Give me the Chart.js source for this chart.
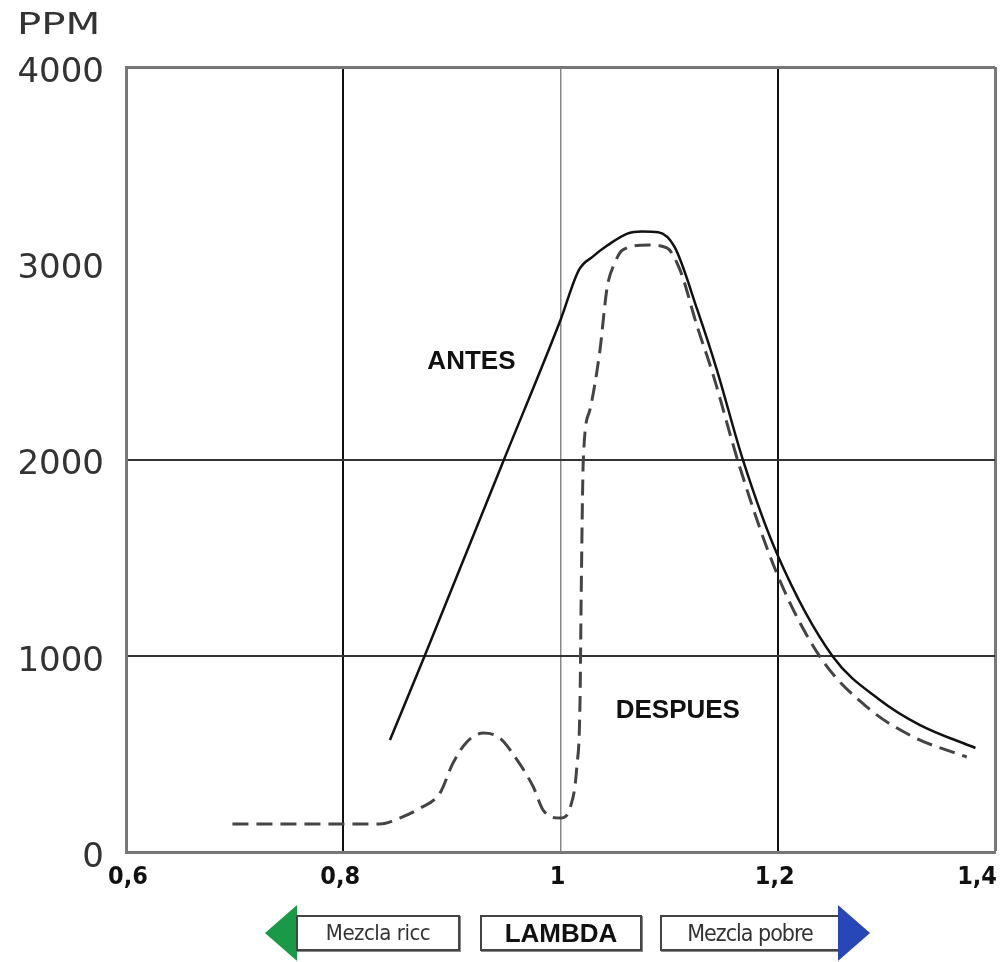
<!DOCTYPE html>
<html>
<head>
<meta charset="utf-8">
<script src="https://cdn.jsdelivr.net/npm/chart.js@4"></script>
<style>
  body { margin: 0; background: #fff; }
  #wrap { position: relative; width: 1000px; height: 962px; }
  .box {
    position: absolute; top: 915px; height: 32px; background: #fff;
    border: 2px solid #444; box-shadow: 1px 1px 0 #888;
    font-family: "DejaVu Sans Condensed", "DejaVu Sans", sans-serif;
    font-size: 22px; color: #333; line-height: 32px; text-align: center;
    letter-spacing: -0.5px; white-space: nowrap; overflow: hidden;
  }
  .arrow { position: absolute; width: 0; height: 0; }
</style>
</head>
<body>
<div id="wrap">
  <canvas id="chartNox" width="1000" height="962"></canvas>
  <div class="arrow" style="left:265px;top:905px;border-top:28px solid transparent;border-bottom:28px solid transparent;border-right:32px solid #1a9a46;"></div>
  <div class="box" style="left:296px;width:160px;">Mezcla ricc</div>
  <div class="box" style="left:480px;width:158px;font-family:'Liberation Sans',sans-serif;font-weight:bold;font-size:26px;color:#111;letter-spacing:0;">LAMBDA</div>
  <div class="box" style="left:660px;width:176px;font-size:23px;letter-spacing:-1px;">Mezcla pobre</div>
  <div class="arrow" style="left:838px;top:905px;border-top:28px solid transparent;border-bottom:28px solid transparent;border-left:32px solid #2747b8;"></div>
</div>
<script>
// eje x: lambda, eje y: PPM
const xTickLabels = ["0,6", "0,8", "1", "1,2", "1,4"];
const yTickLabels = ["0", "1000", "2000", "3000", "4000"];

// curva ANTES (continua)
const antesX = [0.843, 0.875, 0.948, 1.0, 1.017, 1.030, 1.043, 1.061, 1.075, 1.090, 1.105, 1.126, 1.144, 1.168, 1.199, 1.251, 1.294, 1.331, 1.382];
const antesY = [571, 1000, 2000, 2711, 2966, 3035, 3090, 3150, 3162, 3158, 3083, 2762, 2456, 1997, 1524, 994, 775, 647, 530];

// curva DESPUES (discontinua)
const despuesX = [0.698, 0.834, 0.852, 0.871, 0.889, 0.901, 0.914, 0.929, 0.944, 0.960, 0.975, 0.984, 1.0, 1.009, 1.015, 1.018, 1.019, 1.021, 1.027, 1.036, 1.043, 1.050, 1.057, 1.082, 1.098, 1.110, 1.126, 1.140, 1.165, 1.199, 1.239, 1.282, 1.325, 1.374];
const despuesY = [143, 143, 173, 224, 300, 453, 562, 606, 581, 469, 331, 214, 173, 229, 433, 775, 1284, 1997, 2252, 2543, 2879, 3001, 3067, 3093, 3078, 2966, 2675, 2441, 1962, 1422, 994, 739, 586, 484];

const toPoints = (xs, ys) => xs.map((x, i) => ({ x: x, y: ys[i] }));

// textos: PPM, ANTES, DESPUES y etiquetas del eje x
const textPlugin = {
  id: "textos",
  afterDraw(chart) {
    const c = chart.ctx;
    const sx = chart.scales.x, sy = chart.scales.y;
    c.save();
    c.fillStyle = "#333";
    c.font = "31px 'DejaVu Sans', sans-serif";
    c.textAlign = "left";
    c.textBaseline = "middle";
    c.save();
    c.translate(17, 26);
    c.scale(1.3, 1);
    c.fillText("PPM", 0, 0);
    c.restore();

    c.fillStyle = "#111";
    c.font = "bold 26px 'Liberation Sans', sans-serif";
    c.textAlign = "center";
    c.fillText("ANTES", sx.getPixelForValue(0.918), sy.getPixelForValue(2497));
    c.fillText("DESPUES", sx.getPixelForValue(1.108), sy.getPixelForValue(718));

    // etiquetas del eje x (la ultima se mantiene dentro del lienzo)
    c.font = "bold 25px 'DejaVu Sans Condensed', 'DejaVu Sans', sans-serif";
    c.textBaseline = "top";
    sx.ticks.forEach((t, i) => {
      const lab = xTickLabels[i];
      const w = c.measureText(lab).width;
      let px = sx.getPixelForTick(i) - (i === 0 ? -2 : 3);
      px = Math.min(px, chart.width - 3 - w / 2);
      c.fillText(lab, px, sx.top + 13);
    });
    c.restore();
  }
};

const tenth = v => Math.round(v * 10);

new Chart(document.getElementById("chartNox"), {
  type: "line",
  data: {
    datasets: [{
      label: "ANTES",
      data: toPoints(antesX, antesY),
      borderColor: "#111",
      borderWidth: 2.5,
      pointRadius: 0,
      cubicInterpolationMode: "monotone",
      fill: false
    }, {
      label: "DESPUES",
      data: toPoints(despuesX, despuesY),
      borderColor: "#444",
      borderWidth: 3,
      borderDash: [16, 8],
      pointRadius: 0,
      cubicInterpolationMode: "monotone",
      fill: false
    }]
  },
  options: {
    responsive: false,
    animation: false,
    layout: { padding: { top: 67, right: 5, bottom: 50, left: 0 } },
    plugins: { legend: { display: false }, tooltip: { enabled: false } },
    scales: {
      x: {
        type: "linear",
        min: 0.6,
        max: 1.4,
        ticks: {
          stepSize: 0.2,
          display: false
        },
        grid: {
          drawTicks: false,
          color: ctx => {
            const t = tenth(ctx.tick.value);
            if (t === 8 || t === 12) return "#111";
            if (t === 10) return "#888";
            if (t === 14) return "#777";
            return "rgba(0,0,0,0)";
          },
          lineWidth: ctx => {
            const t = tenth(ctx.tick.value);
            if (t === 14) return 3;
            if (t === 10) return 1.5;
            return 2;
          }
        },
        border: { color: "#777", width: 3 },
        afterFit: s => { s.height = 60; s.paddingLeft = 0; s.paddingRight = 0; }
      },
      y: {
        min: 0,
        max: 4000,
        ticks: {
          stepSize: 1000,
          callback: (v, i) => yTickLabels[i],
          font: { family: "'DejaVu Sans', sans-serif", size: 34 },
          color: "#333",
          padding: 22,
          labelOffset: 6
        },
        grid: {
          drawTicks: false,
          color: ctx => {
            const v = ctx.tick.value;
            if (v === 1000 || v === 2000) return "#333";
            if (v === 4000) return "#777";
            return "rgba(0,0,0,0)";
          },
          lineWidth: ctx => (ctx.tick.value === 4000 ? 3 : 2)
        },
        border: { color: "#777", width: 3 },
        afterFit: s => { s.width = 126; s.paddingTop = 0; s.paddingBottom = 0; }
      }
    }
  },
  plugins: [textPlugin]
});
</script>
</body>
</html>
